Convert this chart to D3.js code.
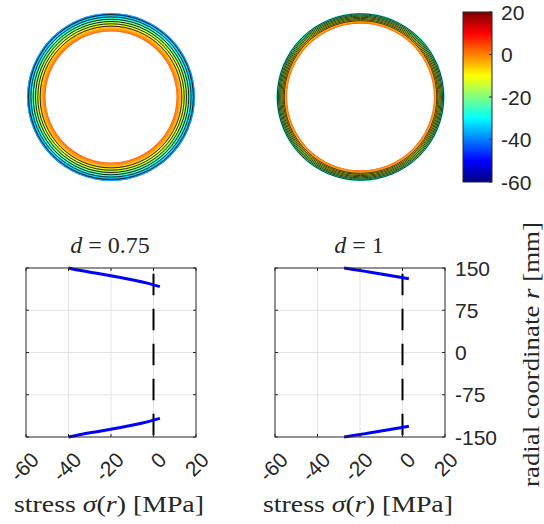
<!DOCTYPE html>
<html>
<head>
<meta charset="utf-8">
<script src="https://cdn.jsdelivr.net/npm/d3@7"></script>
<style>
  html, body { margin: 0; padding: 0; background: #fff; }
  svg { display: block; }
  .sans { font-family: "Liberation Sans", Arial, Helvetica, sans-serif; fill: #262626; }
  .serif { font-family: "Liberation Serif", "DejaVu Serif", serif; fill: #262626; }
</style>
</head>
<body>
<svg id="chart" width="544" height="524"></svg>
<script>
// ---------------- data ----------------
const panelLabels = ["0.75", "1"];
const stressTicks = [-60, -40, -20, 0, 20];
const radiusTicks = [150, 75, 0, -75, -150];
const colorbarTicks = [20, 0, -20, -40, -60];
const stressDomain = [-60, 20];
const radiusDomain = [-150, 150];
const zeroStress = [0];

// d = 0.75 : radial stress profile (outer part of the cross-section)
const radiusLeft = [117, 121, 125, 129, 133, 137, 141, 145, 150];
const stressLeft = [3, -0.8, -5.2, -10.2, -15.6, -21.4, -27.4, -33.6, -40];

// d = 1
const radiusRight = [131, 135, 139, 143, 147, 150];
const stressRight = [3, -3.1, -9.4, -15.8, -22.3, -27.5];

const panels = [
  { label: panelLabels[0], r: radiusLeft, s: stressLeft, meshStep: 2.3, meshW: 0.95, meshOp: 0.9, clean: 5 },
  { label: panelLabels[1], r: radiusRight, s: stressRight, meshStep: 1.15, meshW: 0.8, meshOp: 0.95, clean: 2 }
];

// ---------------- helpers ----------------
function clamp01(v) { return Math.max(0, Math.min(1, v)); }
function jet(t) {
  t = clamp01(t);
  const r = clamp01(1.5 - Math.abs(4 * t - 3));
  const g = clamp01(1.5 - Math.abs(4 * t - 2));
  const b = clamp01(1.5 - Math.abs(4 * t - 1));
  return d3.rgb(r * 255, g * 255, b * 255).formatHex();
}
const colorNorm = d3.scaleLinear().domain(stressDomain).range([0, 1]).clamp(true);
const stressColor = s => jet(colorNorm(s));

const svg = d3.select("#chart");

// ---------------- layout ----------------
const plotBoxes = [
  { x0: 26, x1: 196, cx: 111 },
  { x0: 275, x1: 445, cx: 360.5 }
];
const plotTop = 268, plotBottom = 437;
const ringCy = 97, ringR = 84;

const yScale = d3.scaleLinear().domain(radiusDomain).range([plotBottom, plotTop]);
const ringScale = d3.scaleLinear().domain([0, 150]).range([0, ringR]);

const arc = d3.arc().startAngle(0).endAngle(2 * Math.PI);

panels.forEach((p, i) => {
  const box = plotBoxes[i];

  // ---------- ring (top) ----------
  const g = svg.append("g").attr("transform", `translate(${box.cx},${ringCy})`);
  const rToS = d3.scaleLinear().domain(p.r).range(p.s);
  const rin = ringScale(p.r[0]);
  const rout = ringScale(p.r[p.r.length - 1]);
  const step = 0.5;
  const bands = d3.range(rin, rout, step);
  g.selectAll("path.band").data(bands).join("path")
    .attr("class", "band")
    .attr("d", d => arc({ innerRadius: d, outerRadius: Math.min(d + step + 0.3, rout) }))
    .attr("fill", d => stressColor(rToS(ringScale.invert(d + step / 2))));
  // mesh / contour lines
  const mesh = d3.range(rout - p.meshStep * 0.7, rin + p.clean, -p.meshStep);
  g.selectAll("circle.mesh").data(mesh).join("circle")
    .attr("class", "mesh")
    .attr("r", d => d)
    .attr("fill", "none")
    .attr("stroke", "#000")
    .attr("stroke-opacity", p.meshOp)
    .attr("stroke-width", p.meshW);

  // ---------- line plot (bottom) ----------
  const xScale = d3.scaleLinear().domain(stressDomain).range([box.x0, box.x1]);
  const pg = svg.append("g");

  // grid
  pg.selectAll("line.vg").data(stressTicks.slice(1, -1)).join("line")
    .attr("x1", d => xScale(d)).attr("x2", d => xScale(d))
    .attr("y1", plotTop).attr("y2", plotBottom)
    .attr("stroke", "#e3e3e3").attr("stroke-width", 1);
  pg.selectAll("line.hg").data(radiusTicks.slice(1, -1)).join("line")
    .attr("x1", box.x0).attr("x2", box.x1)
    .attr("y1", d => yScale(d)).attr("y2", d => yScale(d))
    .attr("stroke", "#e3e3e3").attr("stroke-width", 1);

  // dashed zero line
  pg.selectAll("line.zero").data(zeroStress).join("line")
    .attr("x1", d => xScale(d)).attr("x2", d => xScale(d))
    .attr("y1", yScale(radiusDomain[0])).attr("y2", yScale(radiusDomain[1]))
    .attr("stroke", "#000").attr("stroke-width", 2)
    .attr("stroke-dasharray", "21.5,13.5").attr("stroke-dashoffset", 33.3);

  // stress curves (upper and lower part of the section)
  const pts = p.r.map((r, k) => ({ r: r, s: p.s[k] }));
  const line = d3.line().curve(d3.curveMonotoneY).x(d => xScale(d.s));
  pg.append("path").datum(pts)
    .attr("d", line.y(d => yScale(d.r)))
    .attr("fill", "none").attr("stroke", "#0000ff").attr("stroke-width", 3);
  pg.append("path").datum(pts)
    .attr("d", line.y(d => yScale(-d.r)))
    .attr("fill", "none").attr("stroke", "#0000ff").attr("stroke-width", 3);

  // axes box
  pg.append("rect")
    .attr("x", box.x0).attr("y", plotTop)
    .attr("width", box.x1 - box.x0).attr("height", plotBottom - plotTop)
    .attr("fill", "none").attr("stroke", "#262626").attr("stroke-width", 1);

  // inner tick marks
  const tl = 3;
  pg.selectAll("line.xtb").data(stressTicks).join("line")
    .attr("x1", d => xScale(d)).attr("x2", d => xScale(d))
    .attr("y1", plotBottom).attr("y2", plotBottom - tl)
    .attr("stroke", "#262626");
  pg.selectAll("line.xtt").data(stressTicks).join("line")
    .attr("x1", d => xScale(d)).attr("x2", d => xScale(d))
    .attr("y1", plotTop).attr("y2", plotTop + tl)
    .attr("stroke", "#262626");
  pg.selectAll("line.ytl").data(radiusTicks).join("line")
    .attr("x1", box.x0).attr("x2", box.x0 + tl)
    .attr("y1", d => yScale(d)).attr("y2", d => yScale(d))
    .attr("stroke", "#262626");
  pg.selectAll("line.ytr").data(radiusTicks).join("line")
    .attr("x1", box.x1).attr("x2", box.x1 - tl)
    .attr("y1", d => yScale(d)).attr("y2", d => yScale(d))
    .attr("stroke", "#262626");

  // x tick labels (rotated)
  pg.selectAll("text.xtl").data(stressTicks).join("text")
    .attr("class", "sans")
    .attr("font-size", 21)
    .attr("text-anchor", "end")
    .attr("dy", "0.35em")
    .attr("transform", d => `translate(${xScale(d) + 9},${plotBottom + 19}) rotate(-45)`)
    .text(d => d);

  // x label
  const xl = pg.append("text").attr("class", "serif")
    .attr("x", (box.x0 + box.x1) / 2 - 2).attr("y", 512)
    .attr("text-anchor", "middle").attr("font-size", 23)
    .attr("textLength", 190).attr("lengthAdjust", "spacingAndGlyphs");
  xl.append("tspan").text("stress ");
  xl.append("tspan").attr("font-style", "italic").text("σ");
  xl.append("tspan").text("(");
  xl.append("tspan").attr("font-style", "italic").text("r");
  xl.append("tspan").text(")  [MPa]");

  // title
  const tt = pg.append("text").attr("class", "serif")
    .attr("x", (box.x0 + box.x1) / 2 - 1).attr("y", 253)
    .attr("text-anchor", "middle").attr("font-size", 24);
  tt.append("tspan").attr("font-style", "italic").text("d");
  tt.append("tspan").text(" = " + p.label);

  // right y axis on the last panel
  if (i === panels.length - 1) {
    pg.selectAll("text.ytl").data(radiusTicks).join("text")
      .attr("class", "sans").attr("font-size", 21)
      .attr("x", box.x1 + 10).attr("y", d => yScale(d))
      .attr("dy", "0.36em")
      .text(d => d);
    const yl = pg.append("text").attr("class", "serif")
      .attr("transform", `translate(539,${(plotTop + plotBottom) / 2 + 2}) rotate(-90)`)
      .attr("text-anchor", "middle").attr("font-size", 23)
      .attr("textLength", 265).attr("lengthAdjust", "spacingAndGlyphs");
    yl.append("tspan").text("radial coordinate ");
    yl.append("tspan").attr("font-style", "italic").text("r");
    yl.append("tspan").text("  [mm]");
  }
});

// ---------------- colorbar ----------------
const cb = { x0: 463, x1: 492, y0: 12, y1: 182 };
const cbScale = d3.scaleLinear().domain(stressDomain).range([cb.y1, cb.y0]);
const defs = svg.append("defs");
const grad = defs.append("linearGradient").attr("id", "jetgrad")
  .attr("x1", 0).attr("y1", 1).attr("x2", 0).attr("y2", 0);
grad.selectAll("stop").data(d3.range(0, 1.0001, 1 / 32)).join("stop")
  .attr("offset", d => d)
  .attr("stop-color", d => jet(d));
svg.append("rect")
  .attr("x", cb.x0).attr("y", cb.y0)
  .attr("width", cb.x1 - cb.x0).attr("height", cb.y1 - cb.y0)
  .attr("fill", "url(#jetgrad)")
  .attr("stroke", "#262626").attr("stroke-width", 1);
svg.selectAll("line.cbt").data(colorbarTicks).join("line")
  .attr("x1", cb.x1).attr("x2", cb.x1 - 3)
  .attr("y1", d => cbScale(d)).attr("y2", d => cbScale(d))
  .attr("stroke", "#262626");
svg.selectAll("text.cbl").data(colorbarTicks).join("text")
  .attr("class", "sans").attr("font-size", 21)
  .attr("x", cb.x1 + 9).attr("y", d => cbScale(d))
  .attr("dy", "0.36em")
  .text(d => d);
</script>
</body>
</html>
